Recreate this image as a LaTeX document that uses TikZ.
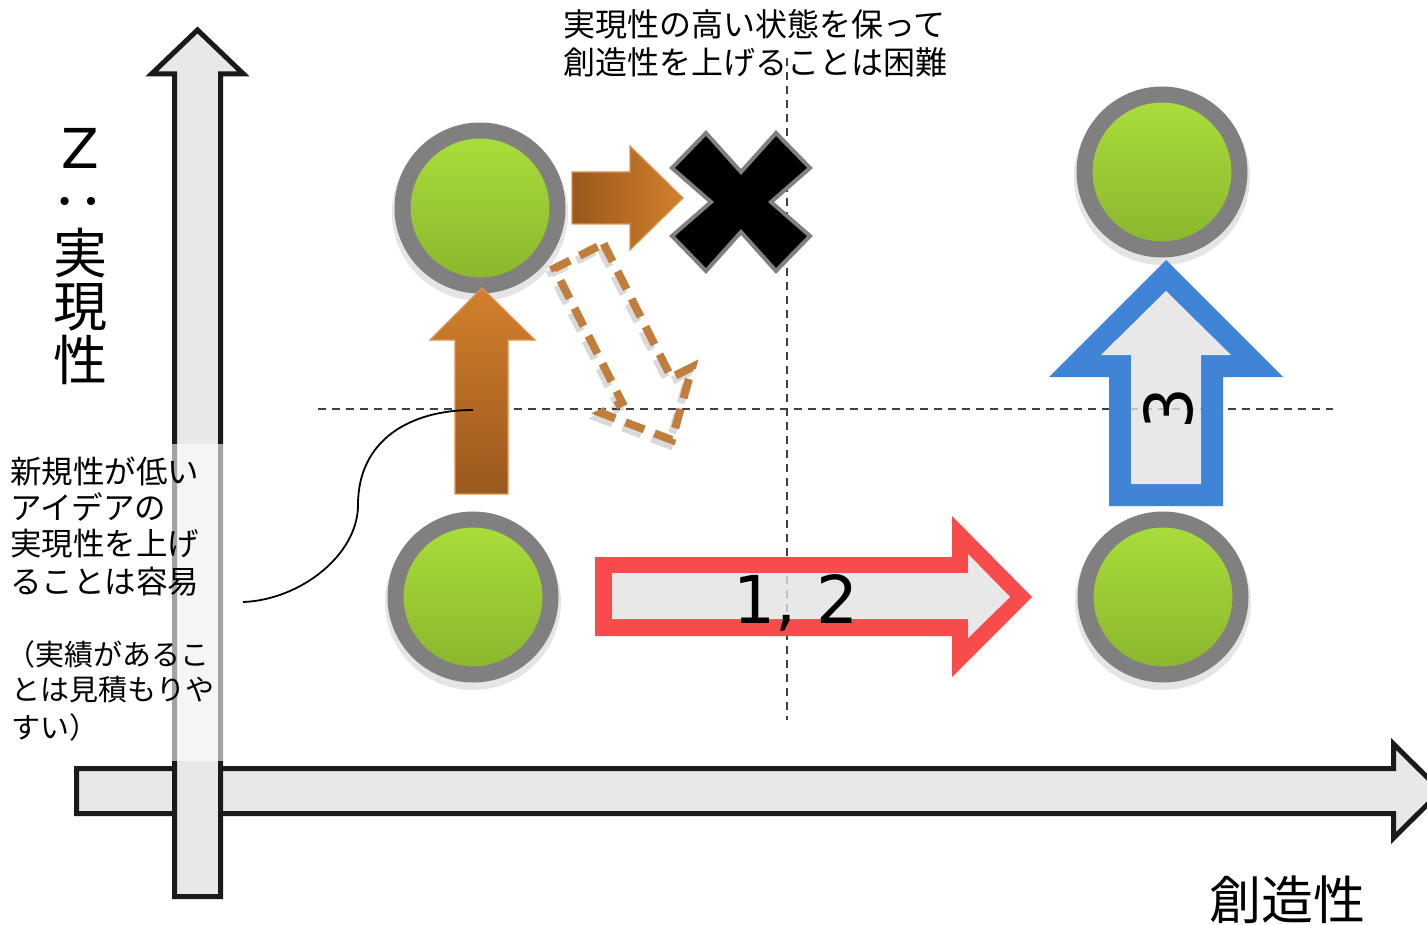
\documentclass[tikz,border=0pt]{standalone}
\usepackage{fontspec}
\setmainfont{Noto Sans CJK JP}
\newfontfamily\dvfont{DejaVu Sans}
\definecolor{axisfill}{HTML}{E8E8E8}
\definecolor{axisline}{HTML}{1A1A1A}
\definecolor{ringgray}{HTML}{808080}
\definecolor{greentop}{HTML}{AADF3B}
\definecolor{greenbot}{HTML}{8AB42D}
\definecolor{orangelight}{HTML}{D2802C}
\definecolor{orangedark}{HTML}{9A581D}
\definecolor{orangeedge}{HTML}{D99550}
\definecolor{dashorange}{HTML}{C17D3C}
\definecolor{redarrow}{HTML}{F84C4C}
\definecolor{bluearrow}{HTML}{3F84D6}
\definecolor{innerfill}{HTML}{E2E2E2}
\definecolor{guide}{HTML}{404040}
\begin{document}
\begin{tikzpicture}[x=1pt,y=-1pt,
  guideline/.style={draw=guide,line width=1.6pt,dash pattern=on 8pt off 6pt},
  axisarrow/.style={draw=axisline,fill=axisfill,line width=5pt,miter limit=10},
  ball/.style={circle,minimum size=155pt,inner sep=0pt,draw=ringgray,line width=16pt,top color=greentop,bottom color=greenbot},
  ballshadow/.style={fill=black,opacity=0.10},
  toptext/.style={font=\fontsize{32}{38}\selectfont,inner sep=0pt,anchor=west},
  notetext/.style={font=\fontsize{31.5}{38}\selectfont,inner sep=0pt,anchor=west},
  smalltext/.style={font=\fontsize{29}{35}\selectfont,inner sep=0pt,anchor=west},
  vlabel/.style={font=\fontsize{54}{54}\selectfont,inner sep=0pt},
  bignum/.style={font=\dvfont\fontsize{66}{66}\selectfont,inner sep=0pt},
  innerpart/.style={fill=innerfill,opacity=0.8},
  dasharrow/.style={line width=8pt,dash pattern=on 20pt off 11pt}
]
\useasboundingbox (0,0) rectangle (1427,925);

% guide lines
\draw[guideline] (318,409) -- (1333,409);
\draw[guideline] (787,58) -- (787,720);

% axes
\draw[axisarrow] (76.5,768.5) -- (1393.5,768.5) -- (1393.5,744) -- (1441,791) -- (1393.5,838) -- (1393.5,813.5) -- (76.5,813.5) -- cycle;
\draw[axisarrow] (174.5,896.5) -- (220.5,896.5) -- (220.5,74) -- (243.5,74) -- (197.5,30) -- (151.5,74) -- (174.5,74) -- cycle;

% translucent note background
\fill[white,opacity=0.6] (0,444) rectangle (225,761);

% circle shadows
\fill[ballshadow] (480,213) circle[radius=88pt];
\fill[ballshadow] (473,602) circle[radius=88pt];
\fill[ballshadow] (1162,177) circle[radius=88pt];
\fill[ballshadow] (1163,602) circle[radius=88pt];

% circles
\node[ball] (b1) at (480,208) {};
\node[ball] (b2) at (473,597) {};
\node[ball] (b3) at (1162,172) {};
\node[ball] (b4) at (1163,597) {};

% orange up arrow
\path[draw=orangeedge,line width=1.2pt,top color=orangelight,bottom color=orangedark]
  (455,494) -- (508,494) -- (508,340) -- (535,340) -- (482,288) -- (430,340) -- (455,340) -- cycle;
\coordinate (cend) at (473,410);

% orange right arrow
\path[draw=orangeedge,line width=1.2pt,left color=orangedark,right color=orangelight]
  (572,172) -- (630,172) -- (630,146) -- (683,198) -- (630,250) -- (630,224) -- (572,224) -- cycle;

% dashed orange arrow (with faint shadow)
\draw[dasharrow,black,opacity=0.15,shift={(-3,5)}]
  (603.6,243.6) -- (671.3,377.6) -- (692.2,367) -- (671.9,440) -- (601.2,413) -- (622.1,402.4) -- (554.4,268.4) -- cycle;
\draw[dasharrow,dashorange]
  (603.6,243.6) -- (671.3,377.6) -- (692.2,367) -- (671.9,440) -- (601.2,413) -- (622.1,402.4) -- (554.4,268.4) -- cycle;

% black cross
\begin{scope}[shift={(741,202)}]
\draw[ringgray,line width=4pt,fill=black,line join=miter]
  (0,-30) -- (35,-69) -- (69,-34) -- (30,0) -- (69,34) -- (35,69) -- (0,30) -- (-35,69) -- (-69,34) -- (-30,0) -- (-69,-34) -- (-35,-69) -- cycle;
\end{scope}

% red arrow
\fill[redarrow,even odd rule]
  (595,557) -- (952,557) -- (952,516) -- (1032,597) -- (952,677) -- (952,636) -- (595,636) -- cycle
  (612,573) -- (968,573) -- (968,554) -- (1010,597) -- (968,638) -- (968,619) -- (612,619) -- cycle;
\fill[innerpart] (612,573) -- (968,573) -- (968,554) -- (1010,597) -- (968,638) -- (968,619) -- (612,619) -- cycle;
\node[bignum,anchor=base] (n12) at (796,623) {1, 2};

% blue arrow
\fill[bluearrow,even odd rule]
  (1109,506) -- (1223,506) -- (1223,377) -- (1283,377) -- (1166,260) -- (1049,377) -- (1109,377) -- cycle
  (1131,484) -- (1201,484) -- (1201,355) -- (1231,355) -- (1166,291) -- (1101,355) -- (1131,355) -- cycle;
\fill[innerpart] (1131,484) -- (1201,484) -- (1201,355) -- (1231,355) -- (1166,291) -- (1101,355) -- (1131,355) -- cycle;
\node[bignum,rotate=90] (n3) at (1168,409) {3};

% top text
\node[toptext] (t1) at (563,24) {実現性の高い状態を保って};
\node[toptext] (t2) at (563,62) {創造性を上げることは困難};

% vertical axis label
\node[font=\dvfont\fontsize{55}{55}\selectfont,inner sep=0pt] (lz) at (80,148) {Z};
\node[vlabel,rotate=90] (lc) at (80,202) {：};
\node[vlabel] (l1) at (80,253) {実};
\node[vlabel] (l2) at (80,307) {現};
\node[vlabel] (l3) at (80,360) {性};

% horizontal axis label
\node[font=\fontsize{52}{52}\selectfont,inner sep=0pt,anchor=north] (hx) at (1287,876) {創造性};

% note text
\node[notetext] (m1) at (10,471) {新規性が低い};
\node[notetext] (m2) at (10,507) {アイデアの};
\node[notetext] (m3) at (10,544) {実現性を上げ};
\node[notetext] (m4) at (10,582) {ることは容易};
\node[smalltext] (s1) at (6,654) {（実績があるこ};
\node[smalltext] (s2) at (11,690) {とは見積もりや};
\node[smalltext] (s3) at (11,727) {すい）};

% connector
\coordinate (cstart) at (243,602);
\draw[line width=1.8pt] (cstart) .. controls (300,600) and (358,555) .. (358,505) .. controls (358,440) and (410,410) .. (cend);
\end{tikzpicture}
\end{document}
